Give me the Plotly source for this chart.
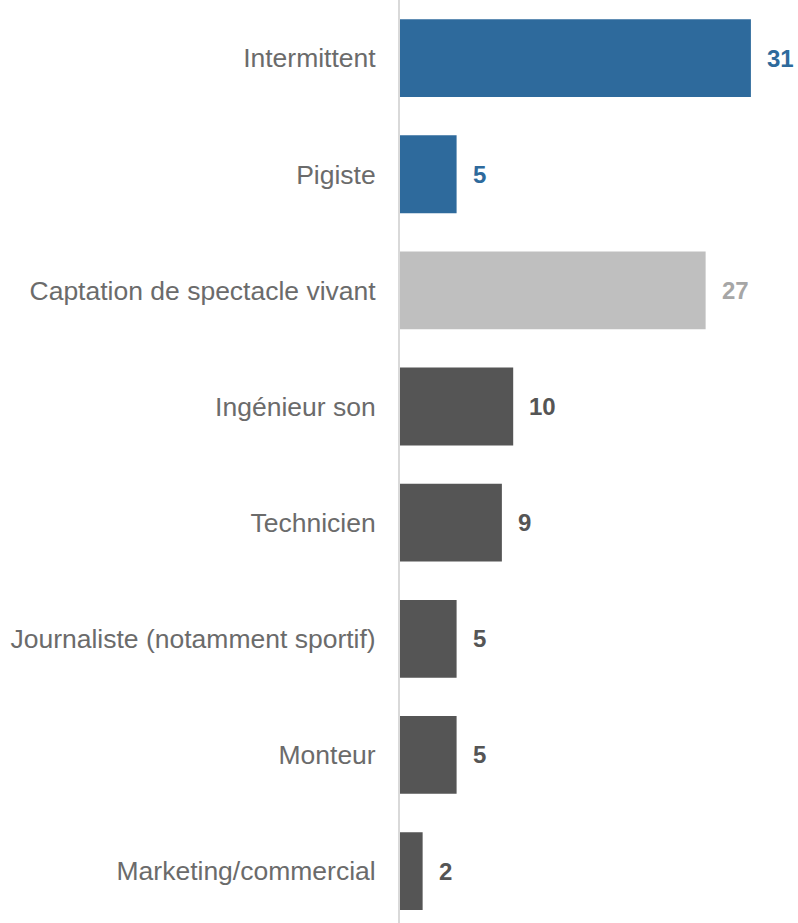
import plotly.graph_objects as go

# Répartition par profil / métier
categories = [
    "Intermittent",
    "Pigiste",
    "Captation de spectacle vivant",
    "Ingénieur son",
    "Technicien",
    "Journaliste (notamment sportif)",
    "Monteur",
    "Marketing/commercial",
]
values = [31, 5, 27, 10, 9, 5, 5, 2]

BLUE = "#2E6A9C"
LIGHT = "#BFBFBF"
DARK = "#555555"
bar_colors = [BLUE, BLUE, LIGHT, DARK, DARK, DARK, DARK, DARK]
label_colors = [BLUE, BLUE, "#A6A6A6", DARK, DARK, DARK, DARK, DARK]

FONT = "Liberation Sans, Arial, sans-serif"

fig = go.Figure(
    go.Bar(
        x=values,
        y=categories,
        orientation="h",
        marker=dict(color=bar_colors, line=dict(width=0)),
        width=0.67,
        hoverinfo="skip",
    )
)

# Value labels to the right of each bar
for cat, val, col in zip(categories, values, label_colors):
    fig.add_annotation(
        x=val,
        y=cat,
        text=f"<b>{val}</b>",
        showarrow=False,
        xanchor="left",
        yanchor="middle",
        xshift=14,
        font=dict(family=FONT, size=24, color=col),
    )

fig.update_layout(
    width=798,
    height=923,
    margin=dict(l=400, r=0, t=0, b=0),
    plot_bgcolor="white",
    paper_bgcolor="white",
    showlegend=False,
    font=dict(family=FONT),
    xaxis=dict(
        range=[0, 35.16],
        showgrid=False,
        zeroline=False,
        showticklabels=False,
        showline=False,
    ),
    yaxis=dict(
        type="category",
        categoryorder="array",
        categoryarray=categories,
        range=[7.447, -0.5],
        showgrid=False,
        zeroline=False,
        showline=True,
        linecolor="#D9D9D9",
        linewidth=2,
        ticks="",
        ticklabelstandoff=17,
        tickfont=dict(family=FONT, size=26.5, color="#6B6B6B"),
    ),
)

fig.write_html("out.html")
